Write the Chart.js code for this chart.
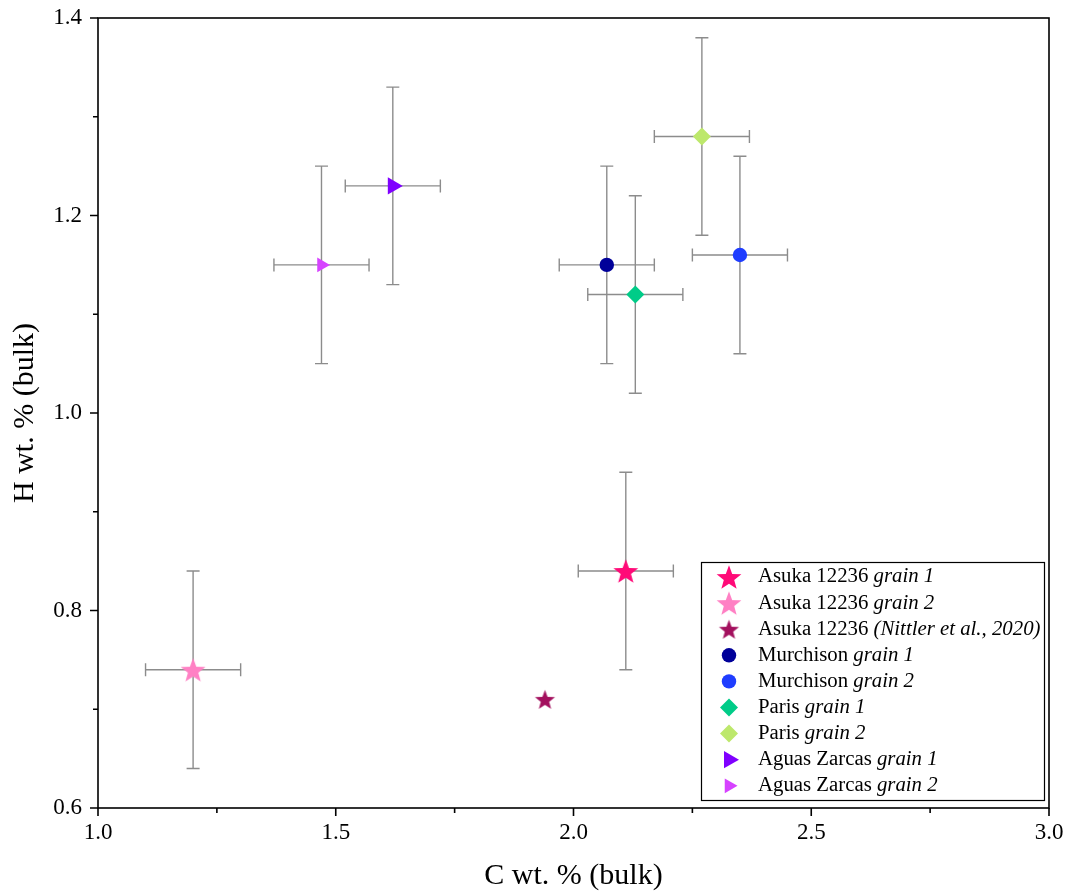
<html>
<head>
<meta charset="utf-8">
<script src="https://cdn.jsdelivr.net/npm/chart.js"></script>
<style>
  body { margin: 0; background: #fff; }
</style>
</head>
<body>
<canvas id="scatter" width="1069" height="893"></canvas>

<script>
// --- data ---
const seriesNames  = ['Asuka 12236', 'Asuka 12236', 'Asuka 12236', 'Murchison', 'Murchison', 'Paris', 'Paris', 'Aguas Zarcas', 'Aguas Zarcas'];
const seriesNotes  = ['grain 1', 'grain 2', '(Nittler et al., 2020)', 'grain 1', 'grain 2', 'grain 1', 'grain 2', 'grain 1', 'grain 2'];
const cValues      = [2.11, 1.20, 1.94, 2.07, 2.35, 2.13, 2.27, 1.62, 1.47];
const hValues      = [0.84, 0.74, 0.71, 1.15, 1.16, 1.12, 1.28, 1.23, 1.15];
const cErrors      = [0.10, 0.10, 0,    0.10, 0.10, 0.10, 0.10, 0.10, 0.10];
const hErrors      = [0.10, 0.10, 0,    0.10, 0.10, 0.10, 0.10, 0.10, 0.10];
const seriesColors = ['#ff0a78', '#ff80c4', '#a3105e', '#000099', '#1f3dff', '#00cc88', '#bde86c', '#8000ff', '#d642ff'];
const seriesShapes = ['star', 'star', 'star', 'circle', 'circle', 'rectRot', 'rectRot', 'triangle', 'triangle'];
const seriesSizes  = [13, 13, 10.5, 7.2, 7.2, 9, 9, 10, 8.5];

const xTicksMajor = [1.0, 1.5, 2.0, 2.5, 3.0];
const yTicksMajor = [0.6, 0.8, 1.0, 1.2, 1.4];

const FONT = '"Liberation Serif", "Times New Roman", serif';

function makeStar(r, color) {
  const c = document.createElement('canvas');
  c.width = c.height = Math.ceil(2 * r + 2);
  const g = c.getContext('2d');
  const cx = c.width / 2, cy = c.height / 2 + r * 0.1;
  g.beginPath();
  for (let i = 0; i < 10; i++) {
    const rad = i % 2 === 0 ? r : r * 0.42;
    const a = -Math.PI / 2 + i * Math.PI / 5;
    const px = cx + rad * Math.cos(a), py = cy + rad * Math.sin(a);
    if (i === 0) g.moveTo(px, py); else g.lineTo(px, py);
  }
  g.closePath();
  g.fillStyle = color;
  g.fill();
  return c;
}

const datasets = cValues.map((c, i) => {
  const shape = seriesShapes[i];
  return {
    label: seriesNames[i] + ' ' + seriesNotes[i],
    data: [{x: c, y: hValues[i]}],
    xErr: cErrors[i],
    yErr: hErrors[i],
    backgroundColor: seriesColors[i],
    borderColor: seriesColors[i],
    borderWidth: 0,
    pointStyle: shape === 'star' ? makeStar(seriesSizes[i], seriesColors[i]) : shape,
    pointRadius: seriesSizes[i],
    pointHoverRadius: seriesSizes[i],
    pointRotation: shape === 'triangle' ? 90 : 0
  };
});

// error bars, drawn under the points
const errorBars = {
  id: 'errorBars',
  beforeDatasetsDraw(chart) {
    const ctx = chart.ctx, xs = chart.scales.x, ys = chart.scales.y;
    ctx.save();
    ctx.strokeStyle = '#8c8c8c';
    ctx.lineWidth = 1.4;
    const cap = 6.5;
    chart.data.datasets.forEach(ds => {
      const p = ds.data[0];
      const px = xs.getPixelForValue(p.x), py = ys.getPixelForValue(p.y);
      if (ds.xErr) {
        const x0 = xs.getPixelForValue(p.x - ds.xErr), x1 = xs.getPixelForValue(p.x + ds.xErr);
        ctx.beginPath();
        ctx.moveTo(x0, py); ctx.lineTo(x1, py);
        ctx.moveTo(x0, py - cap); ctx.lineTo(x0, py + cap);
        ctx.moveTo(x1, py - cap); ctx.lineTo(x1, py + cap);
        ctx.stroke();
      }
      if (ds.yErr) {
        const y0 = ys.getPixelForValue(p.y - ds.yErr), y1 = ys.getPixelForValue(p.y + ds.yErr);
        ctx.beginPath();
        ctx.moveTo(px, y0); ctx.lineTo(px, y1);
        ctx.moveTo(px - cap, y0); ctx.lineTo(px + cap, y0);
        ctx.moveTo(px - cap, y1); ctx.lineTo(px + cap, y1);
        ctx.stroke();
      }
    });
    ctx.restore();
  }
};

// frame + major/minor outward ticks
const frameTicks = {
  id: 'frameTicks',
  afterDraw(chart) {
    const ctx = chart.ctx, a = chart.chartArea, xs = chart.scales.x, ys = chart.scales.y;
    ctx.save();
    ctx.strokeStyle = '#000';
    ctx.lineWidth = 1.6;
    ctx.strokeRect(a.left, a.top, a.right - a.left, a.bottom - a.top);
    ctx.beginPath();
    for (let v = 1.0; v <= 3.0001; v += 0.25) {
      const px = xs.getPixelForValue(v);
      const major = Math.abs(v * 2 - Math.round(v * 2)) < 1e-6;
      ctx.moveTo(px, a.bottom); ctx.lineTo(px, a.bottom + (major ? 8 : 5));
    }
    for (let v = 0.6; v <= 1.4001; v += 0.1) {
      const py = ys.getPixelForValue(v);
      const major = Math.abs(v * 5 - Math.round(v * 5)) < 1e-6;
      ctx.moveTo(a.left, py); ctx.lineTo(a.left - (major ? 8 : 5), py);
    }
    ctx.stroke();
    ctx.restore();
  }
};

// legend box inside the plot, with italic notes
const innerLegend = {
  id: 'innerLegend',
  afterDraw(chart) {
    const ctx = chart.ctx;
    const box = {x: 701, y: 562, w: 343, h: 238};
    ctx.save();
    ctx.fillStyle = '#fff';
    ctx.fillRect(box.x, box.y, box.w, box.h);
    ctx.strokeStyle = '#000';
    ctx.lineWidth = 1.2;
    ctx.strokeRect(box.x + 0.5, box.y + 0.5, box.w, box.h);
    ctx.textBaseline = 'middle';
    chart.data.datasets.forEach((ds, i) => {
      const cy = box.y + 15 + i * 26.1;
      const mx = 729;
      const r = seriesSizes[i];
      ctx.fillStyle = seriesColors[i];
      const shape = seriesShapes[i];
      if (shape === 'star') {
        ctx.drawImage(ds.pointStyle, mx - ds.pointStyle.width / 2, cy - ds.pointStyle.height / 2);
      } else if (shape === 'circle') {
        ctx.beginPath(); ctx.arc(mx, cy, r, 0, Math.PI * 2); ctx.fill();
      } else if (shape === 'rectRot') {
        ctx.beginPath();
        ctx.moveTo(mx, cy - r); ctx.lineTo(mx + r, cy);
        ctx.lineTo(mx, cy + r); ctx.lineTo(mx - r, cy);
        ctx.closePath(); ctx.fill();
      } else {
        ctx.beginPath();
        ctx.moveTo(mx + r, cy); ctx.lineTo(mx - r * 0.5, cy - r * 0.866); ctx.lineTo(mx - r * 0.5, cy + r * 0.866);
        ctx.closePath(); ctx.fill();
      }
      ctx.fillStyle = '#000';
      ctx.font = '20.8px ' + FONT;
      const name = seriesNames[i] + ' ';
      ctx.fillText(name, 758, cy);
      const w = ctx.measureText(name).width;
      ctx.font = 'italic 20.8px ' + FONT;
      ctx.fillText(seriesNotes[i], 758 + w, cy);
    });
    ctx.restore();
  }
};

function noPad(s) { s.paddingTop = 0; s.paddingBottom = 0; s.paddingLeft = 0; s.paddingRight = 0; }

new Chart(document.getElementById('scatter'), {
  type: 'scatter',
  data: { datasets: datasets },
  plugins: [errorBars, frameTicks, innerLegend],
  options: {
    responsive: false,
    animation: false,
    layout: { padding: { left: 0, top: 18, right: 20, bottom: 0 } },
    plugins: { legend: { display: false }, tooltip: { enabled: false } },
    scales: {
      x: {
        type: 'linear', min: 1.0, max: 3.0,
        afterFit(s) { s.height = 85; noPad(s); },
        afterBuildTicks(s) { s.ticks = xTicksMajor.map(v => ({value: v})); },
        grid: { display: false, drawTicks: false },
        border: { display: false },
        ticks: { padding: 11, color: '#000', maxRotation: 0, font: { family: FONT, size: 23 }, callback: v => v.toFixed(1) },
        title: { display: true, text: 'C wt. % (bulk)', color: '#000',
                 font: { family: FONT, size: 30, lineHeight: 1.1 }, padding: { top: 0, bottom: 0 } }
      },
      y: {
        type: 'linear', min: 0.6, max: 1.4,
        afterFit(s) { s.width = 98; noPad(s); },
        afterBuildTicks(s) { s.ticks = yTicksMajor.map(v => ({value: v})); },
        grid: { display: false, drawTicks: false },
        border: { display: false },
        ticks: { padding: 16, color: '#000', font: { family: FONT, size: 23 }, callback: v => v.toFixed(1) },
        title: { display: true, text: 'H wt. % (bulk)', color: '#000',
                 font: { family: FONT, size: 30, lineHeight: 1.2 }, padding: { top: 7, bottom: 0 } }
      }
    }
  }
});
</script>
</body>
</html>
